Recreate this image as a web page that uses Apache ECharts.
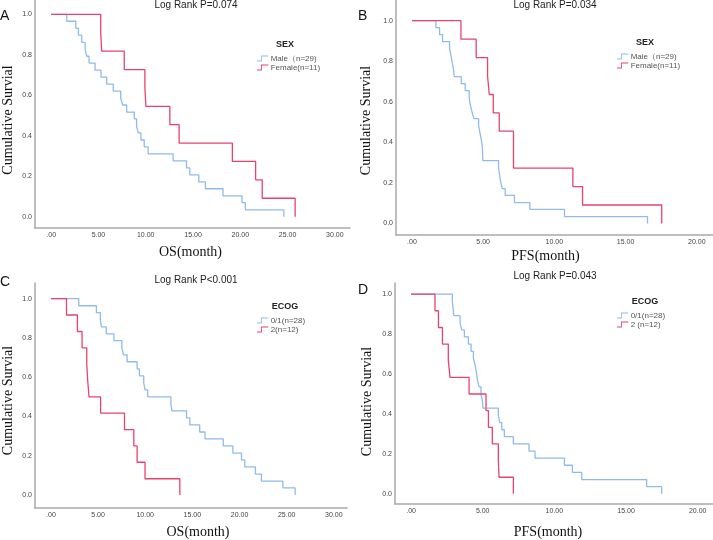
<!DOCTYPE html>
<html>
<head>
<meta charset="utf-8">
<script src="https://cdn.jsdelivr.net/npm/echarts@6/dist/echarts.min.js"></script>
<style>
  html, body { margin: 0; padding: 0; background: #fff; }
  #chart { width: 713px; height: 540px; }
</style>
</head>
<body>
<div id="chart"></div>
<script>
// Kaplan-Meier steps, [month, cumulative survival]
const osMale = [[0,1],[1.65,0.966],[2.60,0.931],[2.88,0.897],[3.23,0.862],[3.59,0.828],[3.76,0.793],[4.01,0.759],[4.64,0.724],[5.27,0.690],[5.87,0.655],[6.57,0.621],[7.35,0.586],[7.56,0.552],[7.98,0.517],[8.79,0.483],[9.03,0.448],[9.21,0.414],[9.49,0.379],[9.84,0.345],[10.26,0.310],[12.90,0.276],[14.31,0.241],[14.66,0.207],[15.61,0.172],[16.31,0.138],[18.17,0.103],[20.18,0.069],[20.53,0.034],[24.60,0]];
const osFemale = [[0,1],[5.24,0.909],[5.34,0.818],[7.73,0.727],[9.91,0.636],[10.02,0.545],[12.55,0.455],[13.53,0.364],[19.16,0.273],[21.62,0.182],[22.32,0.091],[25.80,0]];

const pfsMale = [[0,1],[1.68,0.966],[1.94,0.931],[2.15,0.897],[2.64,0.862],[2.74,0.828],[2.83,0.793],[2.92,0.759],[2.97,0.724],[3.46,0.690],[3.74,0.655],[4.02,0.621],[4.09,0.586],[4.21,0.552],[4.35,0.517],[4.68,0.483],[4.77,0.448],[4.87,0.414],[4.94,0.379],[4.98,0.310],[6.08,0.276],[6.15,0.241],[6.22,0.207],[6.34,0.172],[6.55,0.138],[7.20,0.103],[8.28,0.069],[10.71,0.034],[16.54,0]];
const pfsFemale = [[0,1],[3.44,0.909],[4.51,0.818],[5.31,0.727],[5.43,0.636],[5.71,0.545],[6.13,0.455],[7.13,0.273],[11.30,0.182],[11.98,0.091],[17.54,0]];

const osEcog01 = [[0,1],[2.95,0.964],[4.82,0.929],[5.24,0.893],[5.34,0.857],[5.87,0.821],[6.68,0.786],[7.52,0.750],[7.70,0.714],[8.08,0.679],[9.14,0.643],[9.38,0.607],[9.84,0.571],[9.98,0.536],[10.26,0.500],[12.72,0.464],[12.83,0.429],[14.38,0.393],[14.73,0.357],[15.78,0.321],[16.34,0.286],[18.28,0.250],[19.30,0.214],[20.21,0.179],[20.56,0.143],[21.69,0.107],[22.32,0.071],[24.60,0.036],[25.90,0]];
const osEcog2 = [[0,1],[1.65,0.917],[2.81,0.833],[3.30,0.750],[3.80,0.667],[3.90,0.583],[4.04,0.500],[5.27,0.417],[7.80,0.333],[8.79,0.250],[9.14,0.167],[9.98,0.083],[13.67,0]];

const pfsEcog01 = [[0,1],[2.88,0.964],[2.93,0.929],[2.98,0.893],[3.42,0.857],[3.53,0.821],[3.72,0.786],[4.00,0.750],[4.19,0.714],[4.35,0.679],[4.47,0.643],[4.56,0.607],[4.63,0.571],[4.74,0.536],[4.88,0.500],[4.98,0.464],[5.02,0.429],[6.09,0.393],[6.19,0.357],[6.33,0.321],[6.51,0.286],[7.14,0.250],[8.23,0.214],[8.65,0.179],[10.70,0.143],[11.26,0.107],[11.91,0.071],[16.44,0.036],[17.49,0]];
const pfsEcog2 = [[0,1],[1.67,0.917],[1.91,0.833],[2.19,0.750],[2.60,0.667],[2.72,0.583],[4.05,0.500],[5.23,0.417],[5.40,0.333],[5.67,0.250],[6.09,0.167],[6.14,0.083],[7.14,0]];

const osTicks = [0, 5, 10, 15, 20, 25, 30];
const pfsTicks = [0, 5, 10, 15, 20];
const yTicks = [0, 0.2, 0.4, 0.6, 0.8, 1.0];

const pTitles = ["Log Rank P=0.074", "Log Rank P=0.034", "Log Rank P<0.001", "Log Rank P=0.043"];
const panelLetters = ["A", "B", "C", "D"];
const sexNames = ["Male（n=29)", "Female(n=11)"];
const ecogNamesC = ["0/1(n=28)", "2(n=12)"];
const ecogNamesD = ["0/1(n=28)", "2 (n=12)"];

const BLUE = "#8fbbec";
const RED = "#e8436f";
const AXIS = "#a9a9a9";
const stepIcon = "path://M0,9 L7,9 L7,0 L20,0 L20,1.6 L8.6,1.6 L8.6,10.6 L0,10.6 Z";

const chart = echarts.init(document.getElementById("chart"));

// one box per panel: axis line positions in px, value range of the axes,
// and small nudges for the axis names (xpad: [right,left], ypad: shift down)
const panels = [
  { left: 33, right: 363, top: 0, bottom: 312, xmin: -1.71, xmax: 31.6, ymin: -0.056, ymax: 1.071, ticks: osTicks, xname: "OS(month)", xgap: 17, ygap: 20, xpad: [4, 0], ypad: 12 },
  { left: 396, right: 0, top: 0, bottom: 305, xmin: -1.12, xmax: 21.14, ymin: -0.057, ymax: 1.102, ticks: pfsTicks, xname: "PFS(month)", xgap: 14, ygap: 23, xpad: [18, 0], ypad: 6 },
  { left: 33, right: 366, top: 283, bottom: 25, xmin: -1.69, xmax: 31.4, ymin: -0.066, ymax: 1.08, ticks: osTicks, xname: "OS(month)", xgap: 17, ygap: 20, xpad: [0, 14], ypad: 10 },
  { left: 395, right: 0, top: 283, bottom: 32, xmin: -1.12, xmax: 21.07, ymin: -0.051, ymax: 1.056, ticks: pfsTicks, xname: "PFS(month)", xgap: 21, ygap: 21, xpad: [12, 0], ypad: 16 }
];

const grid = panels.map(p => ({ left: p.left, right: p.right, top: p.top, bottom: p.bottom, containLabel: false }));

const xAxis = panels.map((p, i) => ({
  type: "value", gridIndex: i, min: p.xmin, max: p.xmax,
  name: p.xname, nameLocation: "middle", nameGap: p.xgap,
  nameTextStyle: { fontFamily: "Liberation Serif", fontSize: 14, color: "#111", padding: [0, p.xpad[0], 0, p.xpad[1]] },
  axisLine: { show: true, onZero: false, lineStyle: { color: AXIS, width: 1.5 } },
  axisTick: { show: false },
  splitLine: { show: false },
  axisLabel: {
    customValues: p.ticks, margin: 4,
    fontFamily: "Liberation Sans", fontSize: 7, color: "#444",
    formatter: v => (v === 0 ? ".00" : v.toFixed(2))
  }
}));

const yAxis = panels.map((p, i) => ({
  type: "value", gridIndex: i, min: p.ymin, max: p.ymax,
  name: "Cumulative Survial", nameLocation: "middle", nameGap: p.ygap, nameRotate: 90,
  nameTextStyle: { fontFamily: "Liberation Serif", fontSize: 14, color: "#111", padding: [0, p.ypad, 0, 0] },
  axisLine: { show: true, onZero: false, lineStyle: { color: AXIS, width: 1.5 } },
  axisTick: { show: false },
  splitLine: { show: false },
  axisLabel: {
    customValues: yTicks, margin: 3,
    fontFamily: "Liberation Sans", fontSize: 7, color: "#444",
    formatter: v => v.toFixed(1)
  }
}));

function km(name, data, color, idx) {
  return {
    name: name, type: "line", step: "end", data: data,
    xAxisIndex: idx, yAxisIndex: idx,
    showSymbol: false, symbol: "none", silent: true,
    color: color,
    lineStyle: { color: color, width: 1.3 }
  };
}

const series = [
  km(sexNames[0], osMale, BLUE, 0),
  km(sexNames[1], osFemale, RED, 0),
  km(sexNames[0], pfsMale, BLUE, 1),
  km(sexNames[1], pfsFemale, RED, 1),
  km(ecogNamesC[0], osEcog01, BLUE, 2),
  km(ecogNamesC[1], osEcog2, RED, 2),
  km(ecogNamesD[0], pfsEcog01, BLUE, 3),
  km(ecogNamesD[1], pfsEcog2, RED, 3)
];

const titleCenters = [[196, 0], [555, 0], [196, 275], [555, 271]];
const letterPos = [[0, 9], [358, 9], [0, 275], [358, 283]];
const legendHeads = [["SEX", 285, 40], ["SEX", 645, 38], ["ECOG", 285, 302], ["ECOG", 645, 297]];

const title = [];
pTitles.forEach((t, i) => title.push({
  text: t, left: titleCenters[i][0], top: titleCenters[i][1], textAlign: "center", padding: 0,
  textStyle: { fontFamily: "Liberation Sans", fontSize: 10, fontWeight: "normal", color: "#222" }
}));
panelLetters.forEach((t, i) => title.push({
  text: t, left: letterPos[i][0], top: letterPos[i][1], padding: 0,
  textStyle: { fontFamily: "Liberation Sans", fontSize: 14, fontWeight: "normal", color: "#111" }
}));
legendHeads.forEach(h => title.push({
  text: h[0], left: h[1], top: h[2], textAlign: "center", padding: 0,
  textStyle: { fontFamily: "Liberation Sans", fontSize: 9, fontWeight: "bold", color: "#222" }
}));

const legendPos = [[257, 54, sexNames], [617, 52, sexNames], [257, 316, ecogNamesC], [617, 311, ecogNamesD]];
const legend = legendPos.map(l => ({
  data: l[2], left: l[0], top: l[1], orient: "vertical",
  icon: stepIcon, itemWidth: 14, itemHeight: 6, itemGap: 0, padding: 0,
  selectedMode: false,
  textStyle: { fontFamily: "Liberation Sans", fontSize: 8, color: "#555", padding: [0, 0, 0, -4], lineHeight: 9 }
}));

chart.setOption({
  animation: false,
  title: title,
  legend: legend,
  grid: grid,
  xAxis: xAxis,
  yAxis: yAxis,
  series: series
});
</script>
</body>
</html>
